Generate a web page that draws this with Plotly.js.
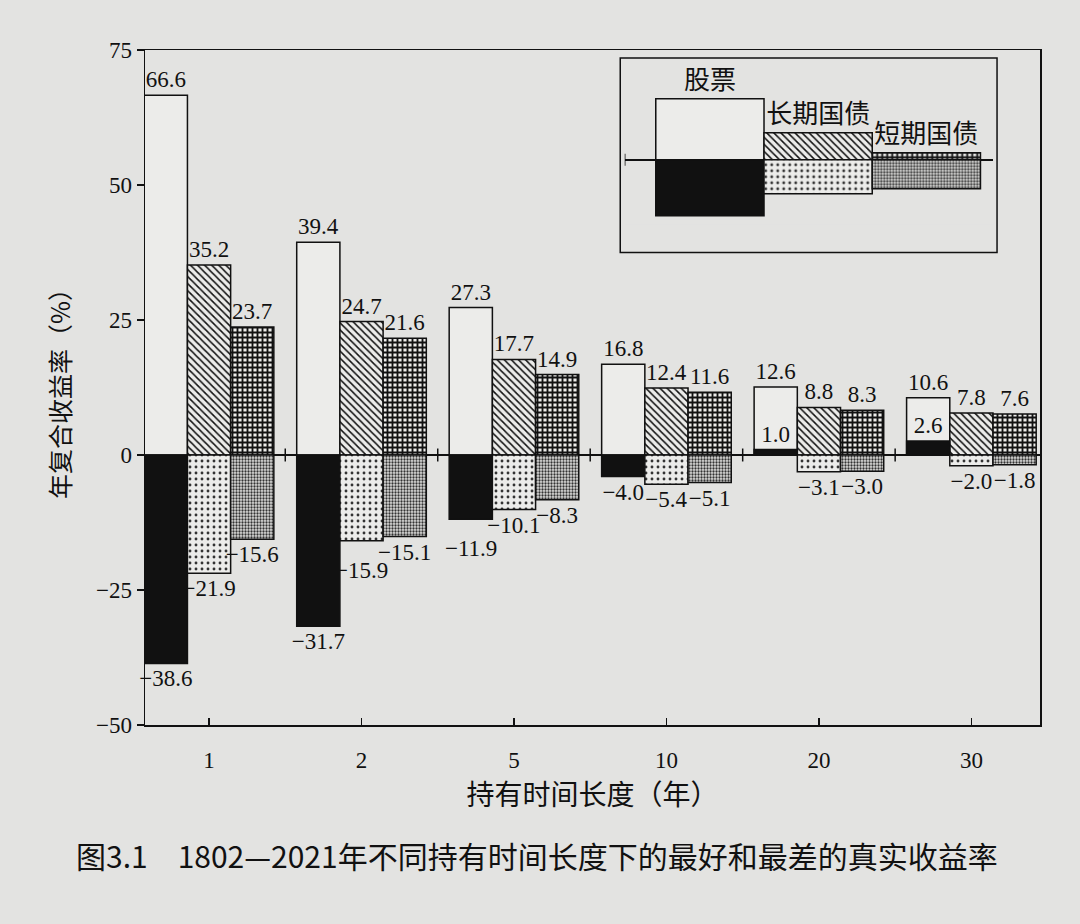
<!DOCTYPE html>
<html><head><meta charset="utf-8">
<script src="https://cdn.plot.ly/plotly-3.0.1.min.js"></script>
<style>html,body{margin:0;padding:0;background:#e3e3e1;} #chart{width:1080px;height:924px;}</style>
</head><body><div id="chart"></div>
<script>
// ---- data ----
const periods = ['1', '2', '5', '10', '20', '30'];
const stockBest = [66.6, 39.4, 27.3, 16.8, 12.6, 10.6];
const stockWorst = [-38.6, -31.7, -11.9, -4.0, 1.0, 2.6];
const bondBest = [35.2, 24.7, 17.7, 12.4, 8.8, 7.8];
const bondWorst = [-21.9, -15.9, -10.1, -5.4, -3.1, -2.0];
const billBest = [23.7, 21.6, 14.9, 11.6, 8.3, 7.6];
const billWorst = [-15.6, -15.1, -8.3, -5.1, -3.0, -1.8];
const seriesNames = ['股票', '长期国债', '短期国债'];
const legendBest = [61, 27, 7];
const legendWorst = [-56, -34, -29];
const yTicks = [-50, -25, 0, 25, 50, 75];
const yTickLabels = ['−50', '−25', '0', '25', '50', '75'];
const captionText = '图3.1　1802—2021年不同持有时间长度下的最好和最差的真实收益率';
const xTitle = '持有时间长度（年）';
const yTitle = '年复合收益率（%）';

// ---- styles ----
const PAPER = '#e3e3e1';
const LIGHT = '#ececea';
const INK = '#111111';
const SERIF = 'Liberation Serif, Times New Roman, serif';
const CJK = 'Noto Sans CJK SC, sans-serif';
const VALUE_FONT = 23;
const BARGAP = 0.15;
const lineStyle = {color: INK, width: 1.5};
const styles = {
  stockBest: {color: LIGHT, line: lineStyle},
  bondBest: {color: LIGHT, line: lineStyle,
    pattern: {shape: '\\', fgcolor: INK, bgcolor: LIGHT, size: 5, solidity: 0.3}},
  billBest: {color: LIGHT, line: lineStyle,
    pattern: {shape: '+', fgcolor: INK, bgcolor: LIGHT, size: 5, solidity: 0.6}},
  stockWorst: {color: INK, line: lineStyle},
  bondWorst: {color: LIGHT, line: lineStyle,
    pattern: {shape: '.', fgcolor: '#333', bgcolor: LIGHT, size: 6, solidity: 0.18}},
  billWorst: {color: '#d6d6d4', line: lineStyle,
    pattern: {shape: '.', fgcolor: '#333', bgcolor: '#dcdcda', size: 3, solidity: 0.45}}
};

const fmt = v => v.toFixed(1).replace('-', '−');
const idx = periods.map((_, i) => i);

// worst-side labels: when two neighbouring labels are both wide (two digits)
// and sit at almost the same depth, the deeper one is dropped half a line
const worstSets = [stockWorst, bondWorst, billWorst];
const worstText = worstSets.map(s => s.map(fmt));
const dropped = [];
const barW = (1 - BARGAP) / worstSets.length;
idx.forEach(i => {
  for (let k = 0; k < worstSets.length - 1; k++) {
    const a = worstSets[k][i], b = worstSets[k + 1][i];
    if (a < 0 && b < 0 && Math.abs(a) >= 10 && Math.abs(b) >= 10 && Math.abs(a - b) < 2) {
      const deeper = a < b ? k : k + 1;
      if (worstText[deeper][i] !== '') {
        dropped.push({k: deeper, i: i, v: worstSets[deeper][i], t: worstText[deeper][i]});
        worstText[deeper][i] = '';
      }
    }
  }
});

function mainBar(vals, group, style, text) {
  return {
    type: 'bar', x: idx, y: vals, offsetgroup: group,
    marker: style,
    text: text, textposition: 'outside', constraintext: 'none', textangle: 0,
    textfont: {family: SERIF, size: VALUE_FONT, color: INK},
    cliponaxis: false, hoverinfo: 'skip'
  };
}

const traces = [
  mainBar(stockBest, 'S', styles.stockBest, stockBest.map(fmt)),
  mainBar(bondBest, 'B', styles.bondBest, bondBest.map(fmt)),
  mainBar(billBest, 'T', styles.billBest, billBest.map(fmt)),
  mainBar(stockWorst, 'S', styles.stockWorst, worstText[0]),
  mainBar(bondWorst, 'B', styles.bondWorst, worstText[1]),
  mainBar(billWorst, 'T', styles.billWorst, worstText[2])
];

// inset legend drawn as mini bars
const bestStyles = [styles.stockBest, styles.bondBest, styles.billBest];
const worstStyles = [styles.stockWorst, styles.bondWorst, styles.billWorst];
seriesNames.forEach((name, i) => {
  traces.push({
    type: 'bar', x: [i], y: [legendBest[i]], width: 1, offsetgroup: 'L',
    xaxis: 'x2', yaxis: 'y2', marker: bestStyles[i],
    text: [name], textposition: 'outside', constraintext: 'none', textangle: 0,
    textfont: {family: CJK, size: 26, color: INK}, cliponaxis: false, hoverinfo: 'skip'
  });
  traces.push({
    type: 'bar', x: [i], y: [legendWorst[i]], width: 1, offsetgroup: 'L',
    xaxis: 'x2', yaxis: 'y2', marker: worstStyles[i], hoverinfo: 'skip'
  });
});

const insetRange = [-0.787, 2.62];
const shapes = [];
// separator ticks on the zero line between groups
for (let i = 0; i < periods.length - 1; i++) {
  shapes.push({type: 'line', xref: 'x', yref: 'y', x0: i + 0.5, x1: i + 0.5, y0: -1.2, y1: 1.2,
    line: {color: INK, width: 1.5}});
}
// legend box
shapes.push({type: 'rect', xref: 'paper', yref: 'paper', x0: 0.531, x1: 0.952, y0: 0.70, y1: 0.988,
  line: {color: INK, width: 1.5}, fillcolor: 'rgba(0,0,0,0)'});
// tick at left end of inset zero line
shapes.push({type: 'line', xref: 'x2', yref: 'y2', x0: insetRange[0], x1: insetRange[0], y0: -6, y1: 6,
  line: {color: INK, width: 1.5}});

const annotations = [{
  text: captionText, xref: 'paper', yref: 'paper', x: -0.079, y: -0.193,
  xanchor: 'left', yanchor: 'middle', showarrow: false,
  font: {family: CJK, size: 30, color: INK}
}];
dropped.forEach(d => {
  annotations.push({
    text: d.t, xref: 'x', yref: 'y', x: d.i + (d.k - 1) * barW, y: d.v,
    xanchor: 'center', yanchor: 'top', yshift: -15, showarrow: false,
    font: {family: SERIF, size: VALUE_FONT, color: INK}
  });
});

const layout = {
  width: 1080, height: 924,
  margin: {l: 145, r: 40, t: 50, b: 199},
  paper_bgcolor: PAPER, plot_bgcolor: PAPER,
  showlegend: false,
  barmode: 'group', bargap: BARGAP, bargroupgap: 0,
  xaxis: {
    range: [-0.42, 5.45], tickvals: idx, ticktext: periods,
    ticks: 'inside', ticklen: 7, tickwidth: 1.2, tickcolor: INK,
    showline: true, mirror: true, linecolor: INK, linewidth: 1.5,
    showgrid: false, zeroline: false,
    tickfont: {family: SERIF, size: 23, color: INK}, ticklabelstandoff: 14,
    title: {text: xTitle, font: {family: CJK, size: 28, color: INK}, standoff: 6}
  },
  yaxis: {
    range: [-50, 75], tickvals: yTicks, ticktext: yTickLabels,
    ticks: 'outside', ticklen: 7, tickwidth: 1.2, tickcolor: INK,
    showline: true, mirror: true, linecolor: INK, linewidth: 1.5,
    showgrid: false, zeroline: true, zerolinecolor: INK, zerolinewidth: 1.5,
    tickfont: {family: SERIF, size: 23, color: INK},
    title: {text: yTitle, font: {family: CJK, size: 25, color: INK}, standoff: 18}
  },
  xaxis2: {
    domain: [0.536, 0.948], anchor: 'y2', range: insetRange,
    showticklabels: false, showgrid: false, zeroline: false, showline: false, ticks: ''
  },
  yaxis2: {
    domain: [0.741, 0.941], anchor: 'x2', range: [-65, 70],
    showticklabels: false, showgrid: false, showline: false, ticks: '',
    zeroline: true, zerolinecolor: INK, zerolinewidth: 1.5
  },
  shapes: shapes,
  annotations: annotations
};

Plotly.newPlot('chart', traces, layout, {displayModeBar: false, staticPlot: true});
</script>
</body></html>
